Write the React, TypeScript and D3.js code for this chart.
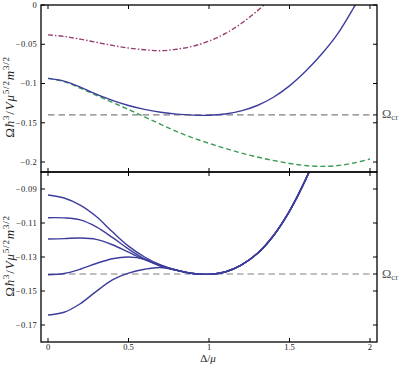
import React from 'react';
import * as d3 from 'd3';

const DELTA = [0, 0.1, 0.2, 0.3, 0.4, 0.5, 0.6, 0.7, 0.8, 0.9, 1.0, 1.1, 1.2, 1.3, 1.4, 1.5, 1.6, 1.7, 1.8, 1.9, 2.0];
const X_TICKS = [0, 0.5, 1, 1.5, 2];
const X_TICK_LABELS = ['0', '0.5', '1', '1.5', '2'];
const TOP_Y_TICKS = [0, -0.05, -0.1, -0.15, -0.2];
const TOP_Y_LABELS = ['0', '\u22120.05', '\u22120.1', '\u22120.15', '\u22120.2'];
const BOT_Y_TICKS = [-0.09, -0.11, -0.13, -0.15, -0.17];
const BOT_Y_LABELS = ['\u22120.09', '\u22120.11', '\u22120.13', '\u22120.15', '\u22120.17'];
const OMEGA_CR = -0.14;

// shared right-hand branch (Delta = 1.1 .. 2.0)
const tail = [-0.1388, -0.1348, -0.128, -0.1175, -0.103, -0.0845, -0.0625, -0.0365, -0.003, 0.034];

const topSolid = [-0.0935, -0.097, -0.1045, -0.1135, -0.1215, -0.128, -0.133, -0.1366, -0.139, -0.1402, -0.1405, ...tail];
const topDashDot = [-0.038, -0.04, -0.0435, -0.0475, -0.0515, -0.0548, -0.057, -0.0582, -0.0563, -0.0525, -0.046, -0.0365, -0.0235, -0.0075, 0.011, null, null, null, null, null, null];
const topDashed = [-0.0935, -0.0975, -0.106, -0.115, -0.124, -0.133, -0.1425, -0.152, -0.1612, -0.1692, -0.1762, -0.1826, -0.1885, -0.1936, -0.198, -0.2018, -0.2045, -0.2055, -0.2045, -0.2012, -0.1962];

const botA = [-0.0935, -0.0953, -0.0995, -0.1062, -0.1152, -0.1236, -0.13, -0.1347, -0.1378, -0.1397, -0.1402, ...tail];
const botB = [-0.1069, -0.107, -0.1082, -0.1123, -0.1185, -0.1253, -0.1311, -0.135, -0.1378, -0.1397, -0.1402, ...tail];
const botC = [-0.1194, -0.1192, -0.1188, -0.1196, -0.1228, -0.1272, -0.1316, -0.1353, -0.1378, -0.1397, -0.1402, ...tail];
const botD = [-0.1404, -0.1397, -0.1372, -0.1338, -0.131, -0.13, -0.1313, -0.1354, -0.1378, -0.1397, -0.1402, ...tail];
const botE = [-0.1641, -0.1625, -0.1575, -0.1502, -0.1435, -0.1395, -0.1372, -0.1362, -0.1379, -0.1397, -0.1402, ...tail];

const BLUE = '#3d3d9c';
const MAGENTA = '#993d71';
const GREEN = '#3d9956';
const GRAY = '#808080';
const FONT = '"Liberation Serif", "Times New Roman", serif';

const L = 41, R = 377, T1 = 5, B1 = 172, B2 = 342;

export default function App() {
  const x = d3.scaleLinear().domain([-0.0435, 2.0435]).range([L, R]);
  const yTop = d3.scaleLinear().domain([-0.2127, 0]).range([B1, T1]);
  const yBot = d3.scaleLinear().domain([-0.18, -0.08]).range([B2, B1]);

  const mkLine = (y: d3.ScaleLinear<number, number>) =>
    d3.line<[number, number | null]>()
      .defined(d => d[1] !== null)
      .x(d => x(d[0]))
      .y(d => y(d[1] as number))
      .curve(d3.curveCatmullRom.alpha(0.5));

  const lt = mkLine(yTop);
  const lb = mkLine(yBot);
  const pts = (arr: (number | null)[]) => DELTA.map((d, i) => [d, arr[i]] as [number, number | null]);

  const tick = 4;
  const sw = 1.4;

  return (
    <svg width={415} height={372} style={{ position: 'absolute', left: 0, top: 0, background: '#fff' }}>
      <defs>
        <clipPath id="cTop"><rect x={L} y={T1} width={R - L} height={B1 - T1} /></clipPath>
        <clipPath id="cBot"><rect x={L} y={B1} width={R - L} height={B2 - B1} /></clipPath>
      </defs>

      {/* top panel curves */}
      <g clipPath="url(#cTop)" fill="none">
        <line x1={x(0)} x2={x(2)} y1={yTop(OMEGA_CR)} y2={yTop(OMEGA_CR)} stroke={GRAY} strokeWidth={1.2} strokeDasharray="6.5,4" />
        <path d={lt(pts(topDashDot)) || ''} stroke={MAGENTA} strokeWidth={sw} strokeDasharray="5,2,1.5,2" />
        <path d={lt(pts(topDashed)) || ''} stroke={GREEN} strokeWidth={sw} strokeDasharray="5,3" />
        <path d={lt(pts(topSolid)) || ''} stroke={BLUE} strokeWidth={sw} />
      </g>

      {/* bottom panel curves */}
      <g clipPath="url(#cBot)" fill="none">
        <line x1={x(0)} x2={x(2)} y1={yBot(OMEGA_CR)} y2={yBot(OMEGA_CR)} stroke={GRAY} strokeWidth={1.2} strokeDasharray="6.5,4" />
        {[botA, botB, botC, botD, botE].map((s, i) => (
          <path key={i} d={lb(pts(s)) || ''} stroke={BLUE} strokeWidth={sw} />
        ))}
      </g>

      {/* frames */}
      <g fill="none" stroke="#000" strokeWidth={1.3}>
        <rect x={L} y={T1} width={R - L} height={B1 - T1} />
        <rect x={L} y={B1} width={R - L} height={B2 - B1} />
      </g>

      {/* ticks */}
      <g stroke="#000" strokeWidth={1}>
        {X_TICKS.map(v => (
          <g key={'xt' + v}>
            <line x1={x(v)} x2={x(v)} y1={T1} y2={T1 + tick} />
            <line x1={x(v)} x2={x(v)} y1={B1 - tick} y2={B1 + tick} />
            <line x1={x(v)} x2={x(v)} y1={B2} y2={B2 - tick} />
          </g>
        ))}
        {[...TOP_Y_TICKS, OMEGA_CR].map(v => (
          <g key={'yt' + v}>
            {v !== OMEGA_CR && <line x1={L} x2={L + tick} y1={yTop(v)} y2={yTop(v)} />}
            <line x1={R} x2={R - tick} y1={yTop(v)} y2={yTop(v)} />
          </g>
        ))}
        {[...BOT_Y_TICKS, OMEGA_CR].map(v => (
          <g key={'yb' + v}>
            {v !== OMEGA_CR && <line x1={L} x2={L + tick} y1={yBot(v)} y2={yBot(v)} />}
            <line x1={R} x2={R - tick} y1={yBot(v)} y2={yBot(v)} />
          </g>
        ))}
      </g>

      {/* tick labels */}
      <g fontFamily={FONT} fontSize={8.5} fill="#222">
        {TOP_Y_TICKS.map((v, i) => (
          <text key={'tl' + i} x={L - 4} y={yTop(v)} dy="0.33em" textAnchor="end" letterSpacing={0.3}>{TOP_Y_LABELS[i]}</text>
        ))}
        {BOT_Y_TICKS.map((v, i) => (
          <text key={'bl' + i} x={L - 4} y={yBot(v)} dy="0.33em" textAnchor="end" letterSpacing={0.3}>{BOT_Y_LABELS[i]}</text>
        ))}
        {X_TICK_LABELS.map((t, i) => (
          <text key={'xl' + i} x={x(X_TICKS[i])} y={349.5} textAnchor="middle">{t}</text>
        ))}
      </g>

      {/* axis labels */}
      <text x={208} y={362} fontFamily={FONT} fontSize={11} textAnchor="middle" fill="#222">
        {'\u0394/'}<tspan fontStyle="italic">{'\u03bc'}</tspan>
      </text>
      {[97, 256].map(cy => (
        <text key={'yl' + cy} transform={`translate(14,${cy}) rotate(-90)`} fontFamily={FONT} fontSize={13} textAnchor="middle" fill="#222" letterSpacing={0.8}>
          {'\u03a9'}<tspan fontStyle="italic">{'\u0127'}</tspan>
          <tspan dy={-5} fontSize={9}>3</tspan>
          <tspan dy={5}>/</tspan><tspan fontStyle="italic">V</tspan><tspan fontStyle="italic">{'\u03bc'}</tspan>
          <tspan dy={-5} fontSize={9}>5/2</tspan>
          <tspan dy={5} fontStyle="italic">m</tspan>
          <tspan dy={-5} fontSize={9}>3/2</tspan>
        </text>
      ))}

      {/* Omega_cr labels */}
      {[yTop(OMEGA_CR), yBot(OMEGA_CR)].map((yy, i) => (
        <text key={'oc' + i} x={382} y={yy + 3.5} fontFamily={FONT} fontSize={12.5} fill="#555">
          {'\u03a9'}<tspan dy={2} fontSize={9}>cr</tspan>
        </text>
      ))}
    </svg>
  );
}
